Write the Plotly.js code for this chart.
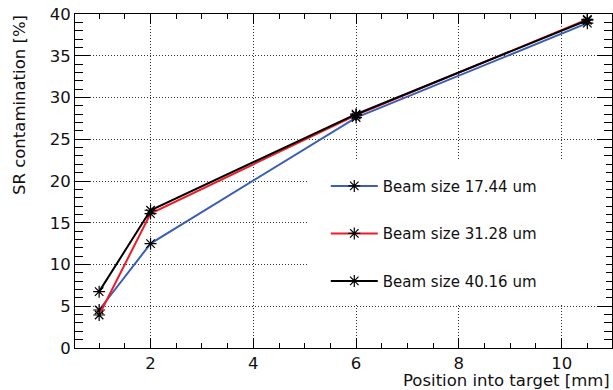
<!DOCTYPE html>
<html>
<head>
<meta charset="utf-8">
<script src="https://cdn.plot.ly/plotly-3.0.1.min.js"></script>
<style>html,body{margin:0;padding:0;background:#fff;}#chart{width:613px;height:390px;}</style>
</head>
<body>
<div id="chart"></div>
<script>
// Data
const positions = [1, 2, 6, 10.5];
const seriesNames = ["Beam size 17.44 um", "Beam size 31.28 um", "Beam size 40.16 um"];
const beam1744 = [4.55, 12.5, 27.6, 38.9];
const beam3128 = [3.95, 16.1, 27.9, 39.35];
const beam4016 = [6.75, 16.5, 28.0, 39.25];
const seriesColors = ["#3a5fb5", "#ee1c25", "#000000"];

const FONT = "DejaVu Sans, Liberation Sans, Arial, sans-serif";
const allSeries = [beam1744, beam3128, beam4016];

const traces = allSeries.map((ys, i) => ({
  type: "scatter",
  mode: "lines+markers",
  x: positions,
  y: ys,
  name: seriesNames[i],
  legendgroup: "g" + i,
  line: {color: seriesColors[i], width: 2},
  marker: {symbol: "asterisk-open", size: 10, color: "#000", line: {color: "#000", width: 1.2}},
  cliponaxis: false
}));

const axisCommon = {
  showline: true, linecolor: "#000", linewidth: 1, mirror: "allticks",
  ticks: "inside", tickwidth: 1, tickcolor: "#000",
  showgrid: true, gridcolor: "#333", gridwidth: 1, griddash: "1px,2px",
  zeroline: false,
  tickfont: {family: FONT, size: 16.5, color: "#111"}
};

const layout = {
  width: 613, height: 390,
  margin: {l: 75, r: 1, t: 14, b: 42, pad: 0},
  paper_bgcolor: "#fff", plot_bgcolor: "#fff",
  font: {family: FONT, color: "#111"},
  showlegend: true,
  xaxis: Object.assign({}, axisCommon, {
    range: [0.53, 10.98], tick0: 0, dtick: 2, ticklen: 10,
    minor: {dtick: 0.5, ticks: "inside", ticklen: 5, tickwidth: 1, tickcolor: "#000", showgrid: false}
  }),
  yaxis: Object.assign({}, axisCommon, {
    range: [0, 40], tick0: 0, dtick: 5, ticklen: 15,
    minor: {dtick: 1, ticks: "inside", ticklen: 8, tickwidth: 1, tickcolor: "#000", showgrid: false}
  }),
  legend: {
    x: 0.467, xanchor: "left", y: 0.534, yanchor: "top",
    bgcolor: "rgba(0,0,0,0)", borderwidth: 0,
    itemwidth: 47, tracegroupgap: 25, traceorder: "grouped",
    font: {family: FONT, size: 15, color: "#111"}
  },
  shapes: [{
    type: "rect", xref: "paper", yref: "paper", layer: "above",
    x0: (309 - 75) / 537, x1: (606 - 75) / 537,
    y0: (348 - 305) / 334, y1: (348 - 160) / 334,
    fillcolor: "#fff", line: {width: 0}
  }],
  annotations: [
    {text: "SR contamination [%]", xref: "paper", yref: "paper",
     x: (20 - 75) / 537, y: 1.003, xanchor: "center", yanchor: "top", textangle: -90,
     showarrow: false, font: {family: FONT, size: 16.5, color: "#111"}},
    {text: "Position into target [mm]", xref: "paper", yref: "paper",
     x: 1.0, y: (348 - 380) / 334, xanchor: "right", yanchor: "middle",
     showarrow: false, font: {family: FONT, size: 16.5, color: "#111"}}
  ]
};

Plotly.newPlot("chart", traces, layout, {staticPlot: true, displayModeBar: false});
</script>
</body>
</html>
